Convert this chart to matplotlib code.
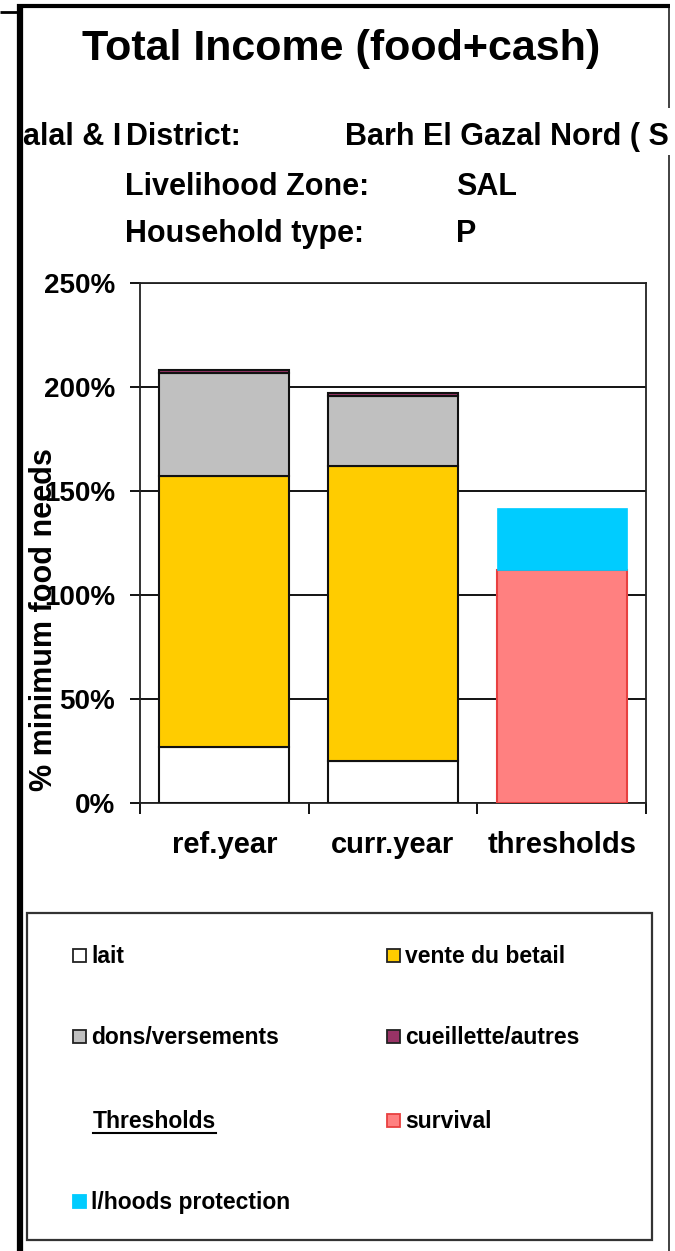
import matplotlib
matplotlib.use('Agg')
import matplotlib.pyplot as plt
from matplotlib.patches import Rectangle
from matplotlib.lines import Line2D
import numpy as np

# data (% of minimum food needs)
categories = ['ref.year', 'curr.year', 'thresholds']
income_names = ['lait', 'vente du betail', 'dons/versements', 'cueillette/autres']
income_colors = ['#FFFFFF', '#FFCC00', '#C0C0C0', '#993366']
lait = [27, 20]
vente_betail = [130, 142]
dons_versements = [49.5, 33.5]
cueillette_autres = [1.8, 1.6]
survival = [112]
lhoods_protection = [30]
yticks = [0, 50, 100, 150, 200, 250]

plt.rcParams['font.family'] = ['Liberation Sans', 'DejaVu Sans']
plt.rcParams['font.weight'] = 'bold'

W, H = 675, 1251
fx = lambda x: x / W
fy = lambda y: 1 - y / H

fig = plt.figure(figsize=(W / 100, H / 100), dpi=100)
ax = fig.add_axes([fx(140), fy(803), 506 / W, 520 / H])

x = np.arange(len(categories))
bw = 0.77
bottom = np.zeros(2)
for vals, col in zip([lait, vente_betail, dons_versements, cueillette_autres], income_colors):
    ax.bar(x[:2], vals, bw, bottom=bottom, color=col, edgecolor='#111111', lw=1.5, zorder=3)
    bottom += np.array(vals)

ax.bar(x[2], survival, bw, color='#FF8080', edgecolor='#E84040', lw=1.5, zorder=3)
ax.bar(x[2], lhoods_protection, bw, bottom=survival, color='#00CCFF', edgecolor='#00CCFF', lw=0.5, zorder=3)

ax.set_xlim(-0.5, 2.5)
ax.set_ylim(0, 250)
ax.set_yticks(yticks)
ax.set_yticklabels([f'{v}%' for v in yticks], fontsize=20, fontweight='bold')
ax.set_xticks([-0.5, 0.5, 1.5, 2.5])
ax.set_xticklabels([])
ax.set_xticks(x, minor=True)
ax.set_xticklabels(categories, minor=True, fontsize=21, fontweight='bold')
ax.tick_params(axis='y', direction='out', length=7, width=1.3, pad=11)
ax.tick_params(axis='x', which='major', direction='out', length=8, width=1.3)
ax.tick_params(axis='x', which='minor', length=0, pad=20)
ax.yaxis.grid(True, color='black', lw=1.3)
ax.set_axisbelow(True)
for s in ax.spines.values():
    s.set_color('#222222')
    s.set_linewidth(1.3)

fig.text(fx(44), fy(620), '% minimum food needs', rotation=90, ha='center', va='center',
         fontsize=22, fontweight='bold')

# header
fig.text(fx(341), fy(60), 'Total Income (food+cash)', ha='center', va='baseline',
         fontsize=31, fontweight='bold')
fig.text(fx(121), fy(145), 'alal & I', ha='right', va='baseline', fontsize=22, fontweight='bold')
fig.text(fx(126), fy(145), 'District:', ha='left', va='baseline', fontsize=22, fontweight='bold')
fig.text(fx(345), fy(145), 'Barh El Gazal Nord ( S', ha='left', va='baseline', fontsize=22, fontweight='bold')
fig.text(fx(125), fy(195), 'Livelihood Zone:', ha='left', va='baseline', fontsize=22, fontweight='bold')
fig.text(fx(456), fy(195), 'SAL', ha='left', va='baseline', fontsize=22, fontweight='bold')
fig.text(fx(125), fy(242), 'Household type:', ha='left', va='baseline', fontsize=22, fontweight='bold')
fig.text(fx(456), fy(242), 'P', ha='left', va='baseline', fontsize=22, fontweight='bold')

# outer frame lines
def fline(xs, ys, lw, color='black'):
    fig.add_artist(Line2D([fx(v) for v in xs], [fy(v) for v in ys], lw=lw, color=color,
                          transform=fig.transFigure, solid_capstyle='butt'))

fline([20, 20], [4, 1251], 4.5)
fline([17, 670], [5.5, 5.5], 3)
fline([0, 19], [12, 12], 2)
fline([669, 669], [8, 108], 1.3, '#333333')
fline([669, 669], [155, 1251], 1.3, '#333333')

# legend box
fig.add_artist(Rectangle((fx(27), fy(1240)), 625 / W, 327 / H, transform=fig.transFigure,
                         facecolor='none', edgecolor='#333333', lw=1.6))

leg_items = [
    (73, 955, 91, 'lait', '#FFFFFF', '#222222'),
    (387, 955, 405, 'vente du betail', '#FFCC00', '#222222'),
    (73, 1036, 91, 'dons/versements', '#C0C0C0', '#222222'),
    (387, 1036, 405, 'cueillette/autres', '#993366', '#222222'),
    (387, 1120, 405, 'survival', '#FF8080', '#E84040'),
    (73, 1201, 91, 'l/hoods protection', '#00CCFF', '#00CCFF'),
]
for mx, my, tx, label, fc, ec in leg_items:
    fig.add_artist(Rectangle((fx(mx), fy(my + 6.5)), 13 / W, 13 / H, transform=fig.transFigure,
                             facecolor=fc, edgecolor=ec, lw=1.3))
    fig.text(fx(tx), fy(my + 8), label, ha='left', va='baseline', fontsize=16.5, fontweight='bold')

th = fig.text(fx(93), fy(1128), 'Thresholds', ha='left', va='baseline', fontsize=16.5, fontweight='bold')
fig.canvas.draw()
bb = th.get_window_extent()
fig.add_artist(Line2D([bb.x0 / W, bb.x1 / W], [fy(1133), fy(1133)], lw=1.5, color='black',
                      transform=fig.transFigure))

fig.savefig('out.png', dpi=100)
